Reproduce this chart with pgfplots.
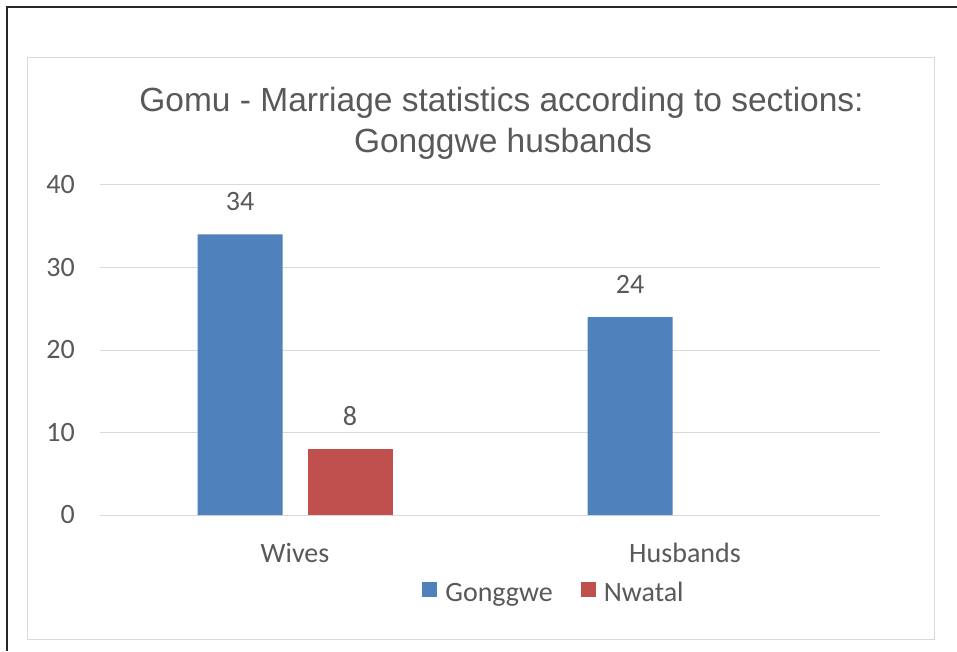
\documentclass[border=0pt]{standalone}
\usepackage{pgfplots}
\pgfplotsset{compat=1.18}
\usepackage{fontspec}
\setmainfont{Carlito}
\newfontfamily\titlefont{Liberation Sans}
\definecolor{gblue}{HTML}{4F81BD}
\definecolor{nred}{HTML}{C0504D}
\definecolor{gridc}{HTML}{D9D9D9}
\definecolor{txt}{HTML}{595959}
\begin{document}
\begin{tikzpicture}[x=1pt,y=1pt]
\useasboundingbox (0,0) rectangle (957,651);
\fill[white] (0,0) rectangle (957,651);
\draw[black!85, line width=2pt] (6.5,0) -- (6.5,644) -- (957,644);
\draw[gridc, line width=1pt] (27,12) rectangle (934,593);
\begin{axis}[
  at={(100pt,136pt)}, anchor=south west,
  scale only axis, width=780pt, height=330pt,
  xmin=-0.5, xmax=1.5, ymin=0, ymax=40,
  ytick={0,10,20,30,40}, xtick={0,1}, xticklabels={Wives,Husbands},
  axis line style={draw=none}, major tick length=0pt,
  ymajorgrids, grid style={gridc, line width=1pt},
  ybar=25pt, bar width=85pt,
  tick label style={font=\fontsize{28}{32}\selectfont, text=txt},
  /pgf/number format/assume math mode=true,
  yticklabel style={anchor=east, inner sep=0pt, xshift=-25pt},
  xticklabel style={anchor=base, inner sep=0pt, yshift=-47pt},
  nodes near coords,
  nodes near coords style={font=\fontsize{28}{32}\selectfont, text=txt, anchor=base, inner sep=0pt, yshift=24pt},
  legend style={at={(0.582,-0.236)}, anchor=center, draw=none, fill=none, legend columns=2, font=\fontsize{28}{32}\selectfont, text=txt,
    /tikz/every odd column/.append style={column sep=6pt},
    /tikz/every even column/.append style={column sep=26pt}},
  legend image code/.code={\fill[#1] (0pt,-4pt) rectangle (15pt,11pt);},
]
\addplot[fill=gblue, draw=none] coordinates {(0,34) (1,24)};
\addplot[fill=nred, draw=none, y filter/.expression={y==0 ? nan : y}] coordinates {(0,8) (1,0)};
\legend{Gonggwe, Nwatal}
\end{axis}
\node[font=\titlefont\fontsize{33.5}{40}\selectfont, text=txt, anchor=base, inner sep=0pt] at (501.5,539) {Gomu - Marriage statistics according to sections:};
\node[font=\titlefont\fontsize{33.5}{40}\selectfont, text=txt, anchor=base, inner sep=0pt] at (503,498) {Gonggwe husbands};
\end{tikzpicture}
\end{document}
